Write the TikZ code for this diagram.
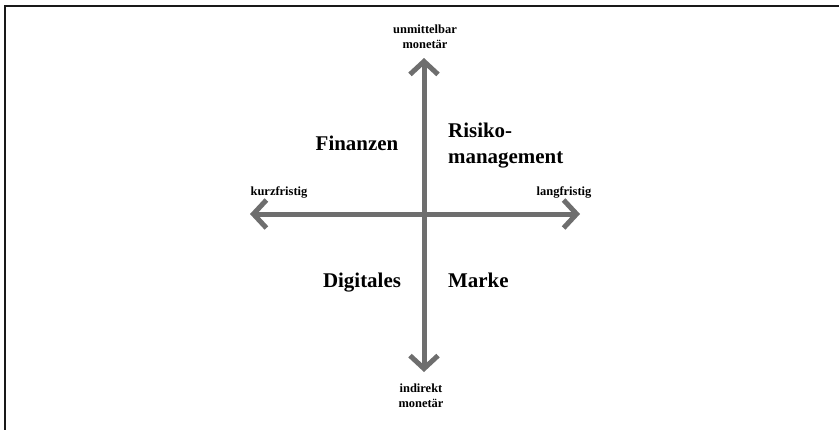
\documentclass[tikz,border=0pt]{standalone}
\usepackage{fontspec}
\setmainfont{Liberation Serif}
\usetikzlibrary{arrows.meta}
\definecolor{axisgray}{HTML}{6E6E6E}
\begin{document}
\begin{tikzpicture}[x=1bp,y=-1bp,
  axis/.style={draw=axisgray,line width=5bp,-{Straight Barb[length=13bp,width=28bp]}},
  pole/.style={font=\bfseries\fontsize{12.5}{14.5}\selectfont,align=center,inner sep=0pt},
  field/.style={font=\bfseries\fontsize{21}{26}\selectfont,align=left,inner sep=0pt}]
  \useasboundingbox (0,0) rectangle (839,429);
  % frame, running off the right and bottom edges
  \begin{scope}
    \clip (0,0) rectangle (839,429);
    \draw[line width=2.6bp,black!90] (5,6) rectangle (860,450);
  \end{scope}
  % axes
  \coordinate (o) at (424,214);
  \coordinate (W) at (250,214);
  \coordinate (E) at (580,214);
  \coordinate (N) at (424,58);
  \coordinate (S) at (424,372);
  \draw[axis] (o) -- (W);
  \draw[axis] (o) -- (E);
  \draw[axis] (o) -- (N);
  \draw[axis] (o) -- (S);
  % pole labels (base = last line)
  \node[pole,anchor=base] (up) at (425,48) {unmittelbar\\monetär};
  \node[pole,anchor=base] (down) at (421,407) {indirekt\\monetär};
  \node[pole,anchor=base] (left) at (279,195) {kurzfristig};
  \node[pole,anchor=base] (right) at (564,195) {langfristig};
  % quadrant labels
  \node[field,anchor=base] (fin) at (357,150) {Finanzen};
  \node[field,anchor=base west] (risk) at (448,163) {Risiko-\\management};
  \node[field,anchor=base] (dig) at (362,287) {Digitales};
  \node[field,anchor=base west] (mark) at (448,287) {Marke};
\end{tikzpicture}
\end{document}
